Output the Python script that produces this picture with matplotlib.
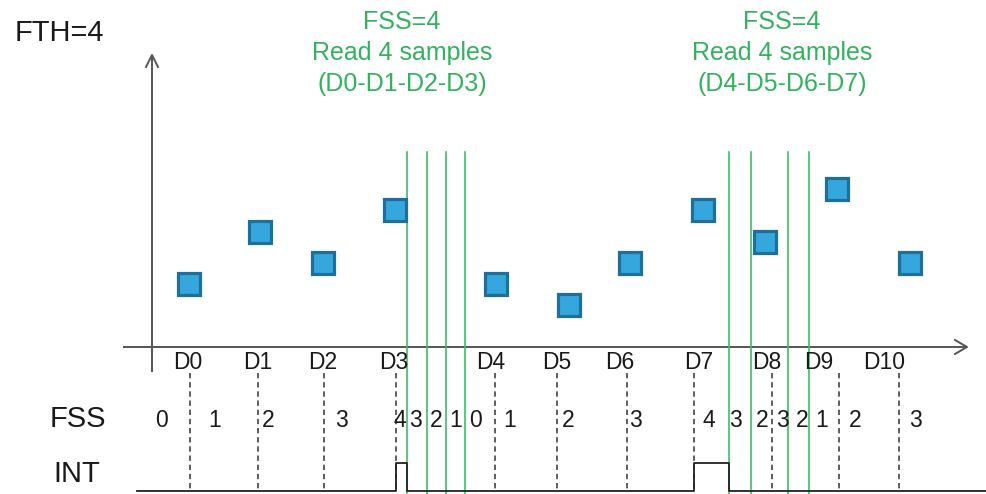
import matplotlib
matplotlib.use("Agg")
import matplotlib.pyplot as plt

plt.rcParams['font.family'] = ['Liberation Sans', 'DejaVu Sans']

# ---------------- data ----------------
sample_labels = ["D0", "D1", "D2", "D3", "D4", "D5", "D6", "D7", "D8", "D9", "D10"]
sample_x = [189, 260, 323, 395, 496, 569, 630, 703, 765, 837, 910]        # square positions
sample_values = [3, 5.5, 4, 6.5, 3, 2, 4, 6.5, 5, 7.5, 4]                 # heights (units)
label_x = [188, 258, 323, 394, 491, 557, 620, 699, 767, 819, 884]         # D-label positions
sample_times = [190, 258, 324, 396, 495, 557, 627, 694, 772, 839, 899]    # dashed event lines

fss_values = [0, 1, 2, 3, 4, 3, 2, 1, 0, 1, 2, 3, 4, 3, 2, 3, 2, 1, 2, 3]
fss_x = [161, 215, 268, 341, 400, 415, 436, 456, 475,
         510, 568, 635, 709, 735, 762, 782, 802, 822, 855, 915]

read_lines_1 = [407, 427, 446, 465]
read_lines_2 = [729, 751, 788, 809]

int_x = [137, 396, 396, 407, 407, 694, 694, 729, 729, 987]
int_level = [0, 0, 1, 1, 0, 0, 1, 1, 0, 0]

fth_text = "FTH=4"
read_texts = [("FSS=4\nRead 4 samples\n(D0-D1-D2-D3)", 402),
              ("FSS=4\nRead 4 samples\n(D4-D5-D6-D7)", 782)]

# ---------------- layout helpers ----------------
X_AXIS_PX = 347
UNIT_PX = 21.0
W, H = 987, 494


def Y(p):
    """pixel row -> value units"""
    return (X_AXIS_PX - p) / UNIT_PX


fig = plt.figure(figsize=(W / 100, H / 100), dpi=100)
ax = fig.add_axes([0, 0, 1, 1])
ax.set_xlim(0, W)
ax.set_ylim(Y(H), Y(0))
ax.axis('off')

axis_col = '#555555'
green = '#3cbf6a'
green_txt = '#33b25e'
txt_col = '#1a1a1a'

# axes with arrows
ax.plot([152, 152], [Y(372), Y(55)], color=axis_col, lw=1.4, solid_capstyle='butt')
ax.plot([146, 152, 158], [Y(67), Y(55), Y(67)], color=axis_col, lw=1.4)
ax.plot([123, 967], [0, 0], color=axis_col, lw=1.4, solid_capstyle='butt')
ax.plot([955, 967, 955], [Y(340), 0, Y(354)], color=axis_col, lw=1.4)

# green read lines
for xv in read_lines_1 + read_lines_2:
    ax.plot([xv, xv], [Y(152), Y(494)], color=green, lw=1.2)

# dashed event lines
for xv in sample_times:
    ax.plot([xv, xv], [Y(373), Y(492)], color='#333333', lw=1.1,
            linestyle=(0, (3.5, 2.5)))

# squares
ax.plot(sample_x, sample_values, linestyle='none', marker='s', markersize=15.6,
        markerfacecolor='#35a7dd', markeredgecolor='#1f6f9c', markeredgewidth=2.3)

# D labels
for lab, xv in zip(sample_labels, label_x):
    ax.text(xv, Y(362), lab, ha='center', va='center', fontsize=16.5, color=txt_col)

# FSS row
ax.text(78, Y(419), "FSS", ha='center', va='center', fontsize=21, color=txt_col)
for v, xv in zip(fss_values, fss_x):
    ax.text(xv, Y(420), str(v), ha='center', va='center', fontsize=16.5, color=txt_col)

# INT signal
ax.text(77, Y(474), "INT", ha='center', va='center', fontsize=21, color=txt_col)
int_y = [Y(491) if lv == 0 else Y(463) for lv in int_level]
ax.plot(int_x, int_y, color='#222222', lw=1.3)

# titles
ax.text(59, Y(33), fth_text, ha='center', va='center', fontsize=21, color=txt_col)
for t, xc in read_texts:
    ax.text(xc, Y(53), t, ha='center', va='center', fontsize=18, color=green_txt,
            linespacing=1.36)

fig.savefig('out.png', dpi=100)
